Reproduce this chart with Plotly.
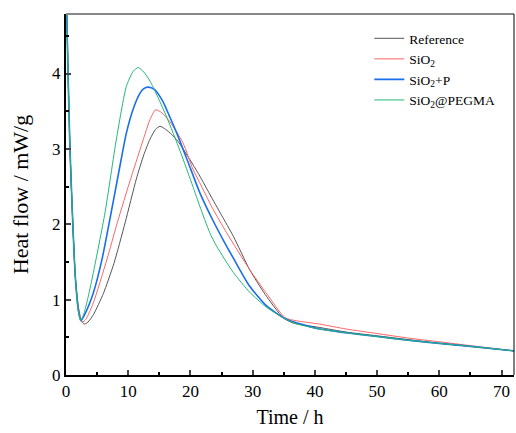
import plotly.graph_objects as go

# heat flow curves (time in h, heat flow in mW/g)
t_ref = [0, 0.35, 0.65, 1.0, 1.5, 2.0, 2.4, 2.9, 3.5, 4.4, 6.0, 7.7, 9.5, 11.3, 12.5, 13.5,
         14.4, 15.1, 16.0, 17.0, 18.0, 19.9, 21.5, 23.1, 25.0, 26.9, 29.5, 32.0, 34.9, 36.5,
         40.8, 45, 50, 55, 60, 65, 72]
hf_ref = [5.3, 4.0, 3.0, 2.2, 1.3, 0.9, 0.74, 0.675, 0.70, 0.80, 1.08, 1.48, 2.02, 2.60, 2.92, 3.13,
          3.26, 3.30, 3.26, 3.19, 3.10, 2.86, 2.64, 2.40, 2.12, 1.84, 1.40, 1.07, 0.76, 0.69,
          0.63, 0.57, 0.52, 0.47, 0.42, 0.38, 0.32]

t_sio2 = [0, 0.3, 0.6, 1.0, 1.5, 2.0, 2.6, 3.2, 4.4, 6.6, 8.1, 10.0, 11.9, 13.5, 14.4, 15.4,
          16.7, 18.8, 20.4, 21.5, 23.5, 25.8, 29.5, 32.5, 35.2, 37.0, 40.8, 45, 50, 55, 60, 65, 72]
hf_sio2 = [5.3, 4.1, 3.1, 2.2, 1.3, 0.88, 0.70, 0.74, 0.96, 1.54, 1.98, 2.50, 2.99, 3.39, 3.52, 3.48,
           3.36, 3.08, 2.73, 2.55, 2.22, 1.89, 1.40, 1.05, 0.76, 0.72, 0.675, 0.61, 0.55, 0.49, 0.44, 0.39, 0.32]

t_sio2p = [0, 0.3, 0.6, 1.0, 1.5, 2.0, 2.4, 3.0, 4.4, 5.8, 7.06, 8.5, 9.7, 10.8, 11.9, 12.5, 13.2,
           14.2, 15.5, 16.6, 17.8, 19.5, 21.5, 23.5, 25.8, 26.9, 29.5, 32.2, 35.4, 40.8, 45, 50, 55,
           60, 65, 72]
hf_sio2p = [5.3, 4.1, 3.1, 2.2, 1.3, 0.85, 0.72, 0.80, 1.09, 1.54, 2.07, 2.70, 3.21, 3.53, 3.74, 3.80,
            3.82, 3.79, 3.64, 3.44, 3.21, 2.85, 2.42, 2.07, 1.71, 1.55, 1.18, 0.92, 0.74, 0.61, 0.56,
            0.51, 0.46, 0.42, 0.38, 0.32]

t_peg = [0, 0.3, 0.6, 1.0, 1.5, 1.9, 2.35, 2.9, 3.6, 4.4, 6.26, 8.1, 9.7, 10.8, 11.6, 12.5,
         13.5, 14.8, 16.2, 18.3, 20.4, 21.5, 23.1, 24.2, 26.9, 29.5, 32.2, 34.9, 37, 40.8, 45, 50,
         55, 60, 65, 72]
hf_peg = [5.3, 4.1, 3.1, 2.2, 1.3, 0.9, 0.72, 0.82, 1.05, 1.36, 2.15, 3.13, 3.83, 4.03, 4.08, 4.02,
          3.90, 3.68, 3.42, 2.98, 2.50, 2.24, 1.89, 1.71, 1.36, 1.10, 0.90, 0.76, 0.68, 0.61, 0.56, 0.51,
          0.46, 0.42, 0.38, 0.32]

series = [
    ("Reference", t_ref, hf_ref, "#555555", 1.0),
    ("SiO<sub>2</sub>", t_sio2, hf_sio2, "#ff6464", 1.0),
    ("SiO<sub>2</sub>+P", t_sio2p, hf_sio2p, "#1a6fe8", 1.6),
    ("SiO<sub>2</sub>@PEGMA", t_peg, hf_peg, "#22b77a", 1.0),
]

font = "Liberation Serif, Times New Roman, serif"

fig = go.Figure()
for name, t, hf, col, w in series:
    fig.add_trace(go.Scatter(x=t, y=hf, mode="lines", name=name,
                             line=dict(color=col, width=w, shape="spline", smoothing=0.6)))

fig.update_layout(
    width=516, height=433,
    margin=dict(l=66, r=2, t=14, b=58),
    paper_bgcolor="white", plot_bgcolor="white",
    font=dict(family=font, size=17, color="black"),
    legend=dict(x=0.677, y=0.975, xanchor="left", yanchor="top",
                font=dict(size=13.5), bgcolor="rgba(0,0,0,0)",
                tracegroupgap=0, itemwidth=30),
    showlegend=True,
)
fig.update_xaxes(range=[0, 72], dtick=10, ticks="inside", ticklen=5, tickwidth=1.5,
                 showline=True, linecolor="black", linewidth=2, showgrid=False, zeroline=False,
                 minor=dict(dtick=5, ticks="inside", ticklen=3, tickcolor="black", showgrid=False),
                 title=dict(text="Time / h", font=dict(size=20), standoff=10))
fig.update_yaxes(range=[0, 4.79], dtick=1, ticks="inside", ticklen=5, tickwidth=1.5,
                 showline=True, linecolor="black", linewidth=2, showgrid=False, zeroline=False,
                 minor=dict(dtick=0.5, ticks="inside", ticklen=3, tickcolor="black", showgrid=False),
                 title=dict(text="Heat flow / mW/g", font=dict(size=22), standoff=17))

# frame: grey top edge, thin black right edge
fig.add_shape(type="line", xref="paper", yref="paper", x0=0, x1=1, y0=1, y1=1,
              line=dict(color="#888888", width=2))
fig.add_shape(type="line", xref="paper", yref="paper", x0=1, x1=1, y0=0, y1=1,
              line=dict(color="black", width=1))

fig.write_html("out.html", config={"displayModeBar": False},
               post_script="document.body.style.margin='0px';")
